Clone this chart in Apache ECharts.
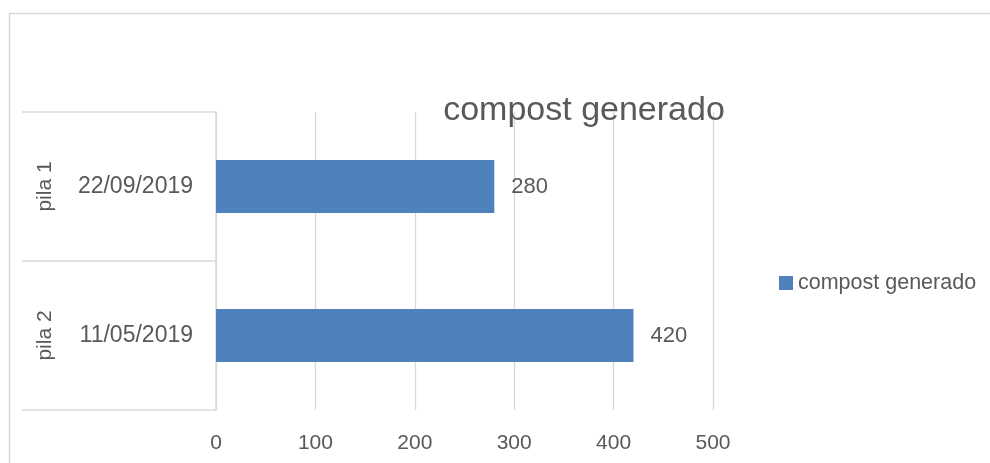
<!DOCTYPE html>
<html><head><meta charset="utf-8">
<script src="https://cdn.jsdelivr.net/npm/echarts@6/dist/echarts.min.js"></script>
<style>html,body{margin:0;padding:0;background:#fff}#c{width:990px;height:463px}</style>
</head><body><div id="c"></div>
<script>
var dates = ['22/09/2019', '11/05/2019'];
var piles = ['pila 1', 'pila 2'];
var values = [280, 420];
var seriesName = 'compost generado';
var titleText = 'compost generado';

var font = '"Liberation Sans", "DejaVu Sans", sans-serif';
var txt = '#595959';
var line = '#d9d9d9';
var chart = echarts.init(document.getElementById('c'));
chart.setOption({
  animation: false,
  backgroundColor: '#fff',
  graphic: [{
    type: 'rect', shape: {x: 9.5, y: 13.5, width: 1000, height: 500},
    style: {fill: 'none', stroke: line, lineWidth: 1.5}, silent: true
  }],
  title: {
    text: titleText, left: 579, top: 106, textAlign: 'center', textVerticalAlign: 'middle',
    textStyle: {fontFamily: font, fontSize: 34, fontWeight: 'normal', color: txt}
  },
  legend: {
    data: [seriesName], left: 774, top: 267, itemWidth: 14, itemHeight: 14, itemGap: 6,
    icon: 'rect',
    textStyle: {fontFamily: font, fontSize: 21.5, color: txt}
  },
  grid: {left: 216, right: 277, top: 112, bottom: 53, containLabel: false},
  xAxis: {
    type: 'value', min: 0, max: 500, interval: 100,
    axisLine: {show: false}, axisTick: {show: false},
    splitLine: {lineStyle: {color: line, width: 1.3}},
    axisLabel: {fontFamily: font, fontSize: 21, color: txt, margin: 23}
  },
  yAxis: [{
    type: 'category', data: dates, inverse: true,
    axisLine: {lineStyle: {color: line, width: 1.5}},
    axisTick: {show: true, length: 194, lineStyle: {color: line, width: 1.5}},
    axisLabel: {fontFamily: font, fontSize: 23, color: txt, margin: 23}
  }, {
    type: 'category', data: piles, inverse: true, position: 'left', offset: 160,
    axisLine: {show: false}, axisTick: {show: false},
    axisLabel: {fontFamily: font, fontSize: 21, color: txt, rotate: 90, margin: 0}
  }],
  series: [{
    name: seriesName, type: 'bar', data: values, yAxisIndex: 0, barWidth: 53,
    itemStyle: {color: '#4f81bd'},
    label: {show: true, position: 'right', distance: 17, fontFamily: font, fontSize: 22, color: txt}
  }]
});
</script></body></html>
